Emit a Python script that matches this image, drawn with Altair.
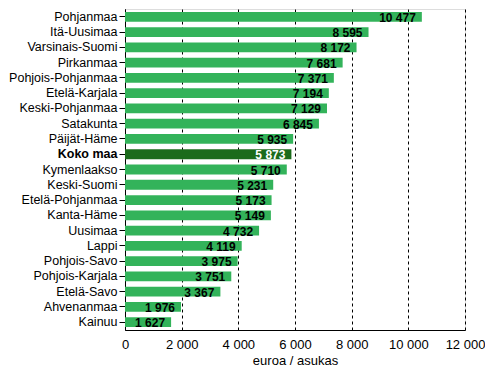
import altair as alt
import pandas as pd

regions = ["Pohjanmaa", "Itä-Uusimaa", "Varsinais-Suomi", "Pirkanmaa", "Pohjois-Pohjanmaa",
           "Etelä-Karjala", "Keski-Pohjanmaa", "Satakunta", "Päijät-Häme", "Koko maa",
           "Kymenlaakso", "Keski-Suomi", "Etelä-Pohjanmaa", "Kanta-Häme", "Uusimaa", "Lappi",
           "Pohjois-Savo", "Pohjois-Karjala", "Etelä-Savo", "Ahvenanmaa", "Kainuu"]
values = [10477, 8595, 8172, 7681, 7371, 7194, 7129, 6845, 5935, 5873,
          5710, 5231, 5173, 5149, 4732, 4119, 3975, 3751, 3367, 1976, 1627]
x_ticks = [0, 2000, 4000, 6000, 8000, 10000, 12000]

df = pd.DataFrame({"region": regions, "value": values})
df["label"] = df["value"].map(lambda v: f"{v:,}".replace(",", " "))
df["total"] = df["region"] == "Koko maa"

FONT = "Liberation Sans"

y_enc = alt.Y("region:N", sort=regions, title=None,
              scale=alt.Scale(paddingInner=0.36, paddingOuter=0.2),
              axis=alt.Axis(labelFont=FONT, labelFontSize=12.5, labelColor="black",
                            labelFontWeight=alt.expr("datum.value == 'Koko maa' ? 'bold' : 'normal'"),
                            domainColor="black", tickColor="black", tickSize=6,
                            labelPadding=2, grid=False))
x_enc = alt.X("value:Q", title="euroa / asukas",
              scale=alt.Scale(domain=[0, 12000], nice=False),
              axis=alt.Axis(values=x_ticks, labelFont=FONT, labelFontSize=13, labelColor="black",
                            labelExpr="replace(format(datum.value, ','), ',', ' ')",
                            titleFont=FONT, titleFontSize=13, titleFontWeight="normal",
                            titleColor="black", titlePadding=3,
                            domainColor="black", tickSize=0, labelPadding=8,
                            grid=True, gridColor="black", gridDash=[3, 3], gridWidth=1,
                            labelFlush=False))

bars = alt.Chart(df).mark_bar().encode(
    y=y_enc, x=x_enc,
    color=alt.Color("total:N", scale=alt.Scale(domain=[False, True], range=["#33b35a", "#1b6b1b"]),
                    legend=None),
)

text = alt.Chart(df).mark_text(align="right", baseline="middle", dx=-6, dy=1,
                               font=FONT, fontSize=12, fontWeight="bold").encode(
    y=alt.Y("region:N", sort=regions),
    x="value:Q",
    text="label:N",
    color=alt.Color("total:N", scale=alt.Scale(domain=[False, True], range=["black", "white"]),
                    legend=None),
)

chart = alt.layer(bars, text).resolve_scale(color="independent").properties(
    width=340, height=321,
    autosize=alt.AutoSizeParams(type="none"),
    padding={"left": 117, "top": 1, "right": 20, "bottom": 39}
).configure_view(stroke="black", strokeWidth=1).configure(background="white")

chart.save("out.html", embed_options={"renderer": "svg", "actions": False})
